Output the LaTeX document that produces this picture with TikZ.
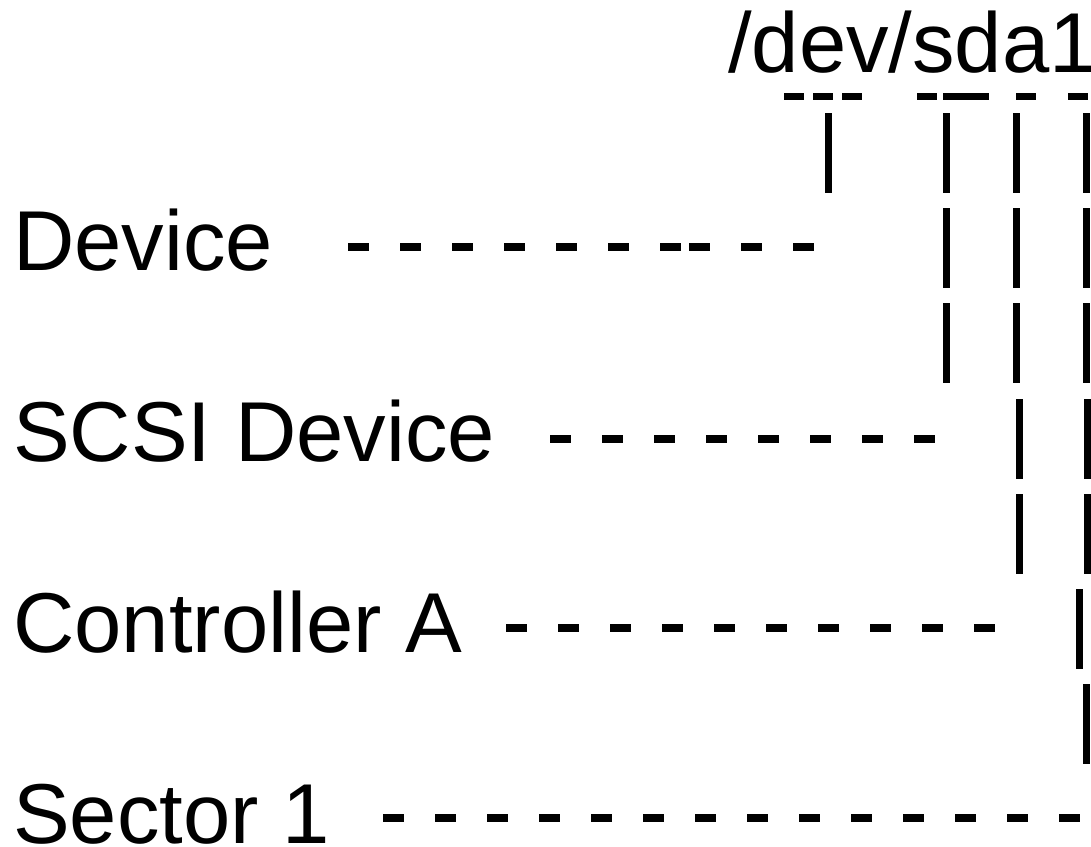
\documentclass[tikz,border=0pt]{standalone}
\usepackage{fontspec}
\setmainfont{Liberation Sans}
\usepackage{tikz}

\begin{document}
\begin{tikzpicture}[x=1pt, y=-1pt,
  lbl/.style={anchor=base west, inner sep=0pt, font=\fontsize{85}{100}\selectfont},
  leader/.style={line width=7.5pt, dash pattern=on 21pt off 31pt},
  bar/.style={line width=7pt}]

\useasboundingbox (0,0) rectangle (1091,846);

% Labels
\node[lbl] (path) at (728,72) {/dev/sda1};
\node[lbl] (device) at (13,270) {Device};
\node[lbl] (scsi) at (13,461) {SCSI Device};
\node[lbl] (ctrl) at (13,652) {Controller A};
\node[lbl] (sector) at (13,843) {Sector 1};

% Marks under the name
\foreach \a/\b in {784/804, 813/833, 842/862, 917/937, 943/989, 1016/1036, 1068/1088}
  \draw[bar] (\a,96) -- (\b,96);

% Columns of bars
\foreach \x/\y in {828.5/113,
                   946/113, 946/208, 946/303,
                   1016/113, 1016/208, 1016/303, 1019/399, 1019/494,
                   1086.5/113, 1086.5/208, 1086.5/303, 1087.5/399, 1087.5/494, 1079.5/589, 1086.5/684}
  \draw[bar] (\x,\y) -- ++(0,80);

% Dashed leaders
\coordinate (device-from) at (348,247);
\coordinate (device-mid) at (681,247);
\coordinate (device-jog) at (689,247);
\coordinate (device-to) at (814,247);
\coordinate (scsi-from) at (550,439);
\coordinate (scsi-to) at (935,439);
\coordinate (ctrl-from) at (506,628);
\coordinate (ctrl-to) at (995,628);
\coordinate (sector-from) at (383,818);
\coordinate (sector-to) at (1080,818);

\draw[leader] (device-from) -- (device-mid);
\draw[leader] (device-jog) -- (device-to);
\draw[leader] (scsi-from) -- (scsi-to);
\draw[leader] (ctrl-from) -- (ctrl-to);
\draw[leader] (sector-from) -- (sector-to);

\end{tikzpicture}
\end{document}
